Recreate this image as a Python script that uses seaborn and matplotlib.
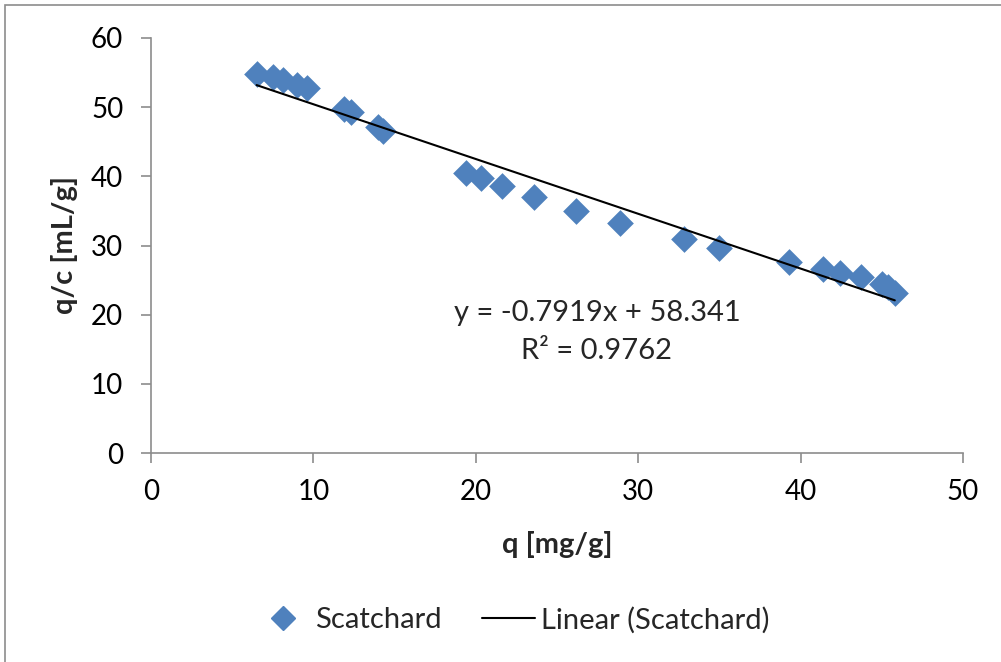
import numpy as np
import pandas as pd
import matplotlib
matplotlib.use("Agg")
import matplotlib.pyplot as plt
import seaborn as sns
from matplotlib.lines import Line2D
from matplotlib.patches import Rectangle

# Data
q = [6.5, 7.5, 8.1, 9.0, 9.6, 11.9, 12.3, 14.0, 14.3, 19.4, 20.3, 21.6, 23.6,
     26.2, 28.9, 32.8, 35.0, 39.3, 41.4, 42.4, 43.7, 45.0, 45.4, 45.8]
qc = [54.75, 54.4, 54.0, 53.2, 52.7, 49.7, 49.25, 47.2, 46.55, 40.5, 39.8, 38.65,
      36.95, 35.0, 33.3, 31.0, 29.7, 27.6, 26.55, 26.05, 25.4, 24.5, 24.0, 23.2]
slope = -0.7919
intercept = 58.341
r2 = 0.9762
x_ticks = [0, 10, 20, 30, 40, 50]
y_ticks = [0, 10, 20, 30, 40, 50, 60]

sns.set_theme(style="white")
plt.rcParams['font.family'] = ['Lato', 'DejaVu Sans']

fig = plt.figure(figsize=(10.01, 6.62), dpi=100)
ax = fig.add_axes([151 / 1001, 1 - 453 / 662, (963 - 151) / 1001, (453 - 38) / 662])

df = pd.DataFrame({"q": q, "qc": qc})
sns.scatterplot(data=df, x="q", y="qc", ax=ax, marker="D", s=185,
                color="#4F81BD", linewidth=0, zorder=3)

xl = np.array([min(q), max(q)])
line_df = pd.DataFrame({"x": xl, "y": slope * xl + intercept})
sns.lineplot(data=line_df, x="x", y="y", ax=ax, color="black", linewidth=1.5, zorder=4)

ax.set_xlim(0, 50)
ax.set_ylim(0, 60)
ax.set_xticks(x_ticks)
ax.set_yticks(y_ticks)
ax.tick_params(axis="both", labelsize=20, colors="black", length=7, width=1.2,
               direction="out", bottom=True, left=True)
ax.tick_params(axis="x", pad=12, color="#8c8c8c")
ax.tick_params(axis="y", pad=13, color="#8c8c8c")
for s in ["top", "right"]:
    ax.spines[s].set_visible(False)
for s in ["left", "bottom"]:
    ax.spines[s].set_color("#8c8c8c")
    ax.spines[s].set_linewidth(1.2)

ax.set_xlabel("q [mg/g]", fontsize=21, fontweight="bold")
ax.set_ylabel("q/c [mL/g]", fontsize=21, fontweight="bold")
ax.xaxis.set_label_coords(0.5, (453 - 545) / 415)
ax.xaxis.label.set_va("center")
ax.yaxis.set_label_coords((64 - 151) / 812, 0.5)
ax.yaxis.label.set_va("center")

ax.text(27.46, 20.2, f"y = {slope}x + {intercept}", ha="center", va="center", fontsize=21)
ax.text(27.46, 14.75, f"R² = {r2}", ha="center", va="center", fontsize=21)

handles = [
    Line2D([], [], marker="D", color="#4F81BD", linestyle="none", markersize=12),
    Line2D([], [], color="black", linewidth=1.5),
]
fig.legend(handles, ["Scatchard", "Linear (Scatchard)"], loc="center",
           bbox_to_anchor=(513 / 1001, 1 - 620 / 662), ncol=2, frameon=False,
           fontsize=21, handlelength=1.8, columnspacing=1.4, handletextpad=0.2)

fig.patches.append(Rectangle((5 / 1001, -0.01), 1.1, 1 - 5 / 662 + 0.01,
                             transform=fig.transFigure, fill=False,
                             edgecolor="#8c8c8c", linewidth=1.2))

fig.savefig("out.png", dpi=100)
